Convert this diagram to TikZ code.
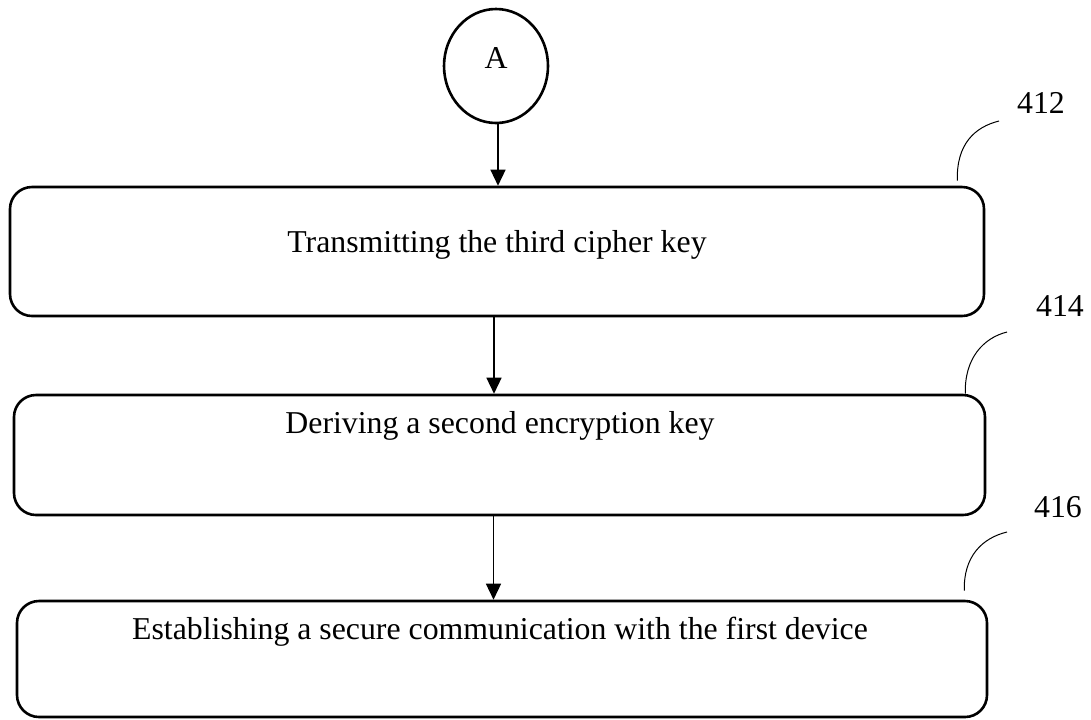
\documentclass[tikz,border=0pt]{standalone}
\usepackage{fontspec}
\setmainfont{Liberation Serif}
\usetikzlibrary{arrows.meta,shapes.geometric}
\tikzset{
	stepbox/.style={draw, line width=1.3pt, rounded corners=11pt, inner sep=0pt},
	flow/.style={line width=0.7pt, -{Triangle[length=8pt,width=7.5pt]}},
	leader/.style={line width=0.5pt},
	txt/.style={font=\fontsize{15.9}{19}\selectfont, anchor=base, inner sep=0pt}
}
\begin{document}
\begin{tikzpicture}[x=0.5pt, y=-0.5pt]
		\useasboundingbox (0,0) rectangle (1091,719);
		\node[ellipse, draw, line width=1.3pt, minimum width=52pt, minimum height=57pt, inner sep=0pt] (a) at (496,66) {};
		\node[txt] (ta) at (496,68) {A};
		\node[stepbox, minimum width=487pt, minimum height=64.5pt] (s1) at (497,251.5) {};
		\node[stepbox, minimum width=485.5pt, minimum height=60pt] (s2) at (499.5,455) {};
		\node[stepbox, minimum width=485pt, minimum height=58pt] (s3) at (502,659) {};
		\node[txt] (t1) at (497,252) {Transmitting the third cipher key};
		\node[txt] (t2) at (500,433) {Deriving a second encryption key};
		\node[txt] (t3) at (500,639) {Establishing a secure communication with the first device};
		\node[txt] (n412) at (1041,113) {412};
		\node[txt] (n414) at (1060,316) {414};
		\node[txt] (n416) at (1058,517) {416};
		\coordinate (c412) at (999,121);
		\coordinate (c414) at (1007,332);
		\coordinate (c416) at (1007,532);
		\draw[flow] ([xshift=1pt]a.south) -- ([xshift=1pt]a.south |- s1.north);
		\draw[flow] ([xshift=-1.5pt]s1.south) -- ([xshift=-1.5pt]s1.south |- s2.north);
		\draw[flow] ([xshift=-3pt]s2.south) -- ([xshift=-3pt]s2.south |- s3.north);
		\draw[leader] ([xshift=-14pt,yshift=2.5pt]s1.north east) .. controls +(-1,-37) and +(-24,6) .. (c412);
		\draw[leader] ([xshift=-10.5pt]s2.north east) .. controls +(-1,-35) and +(-24,6) .. (c414);
		\draw[leader] ([xshift=-12pt,yshift=4.5pt]s3.north east) .. controls +(-1,-34) and +(-25,6) .. (c416);
	\end{tikzpicture}
\end{document}
